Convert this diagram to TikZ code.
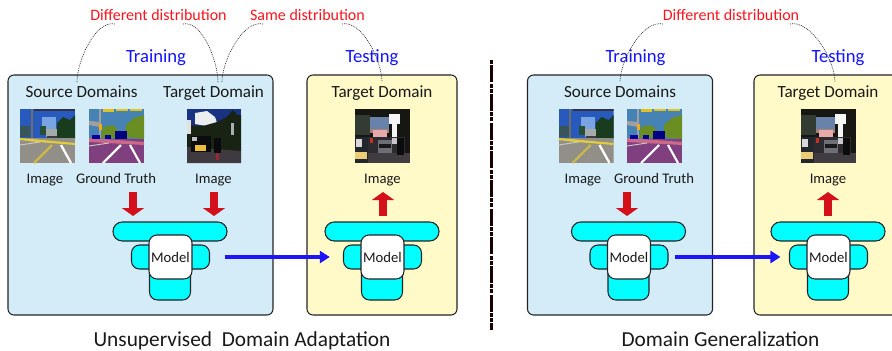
\documentclass[tikz,border=0pt]{standalone}
\usepackage{fontspec}
\setmainfont{Carlito}
\usetikzlibrary{arrows.meta}
\newdimen\pxu \pxu=.75pt
\definecolor{panelblue}{RGB}{211,236,248}
\definecolor{panelyellow}{RGB}{255,250,199}
\definecolor{edge}{RGB}{35,35,40}
\definecolor{redarrow}{RGB}{212,16,26}
\definecolor{bluearrow}{RGB}{30,20,250}
\definecolor{txt}{RGB}{25,25,25}
\definecolor{layercyan}{RGB}{0,255,255}
\definecolor{puredist}{RGB}{255,20,30}
\definecolor{phaseblue}{RGB}{20,20,255}
\tikzset{
  x=.75pt,y=-.75pt,
  panel/.style={draw=edge,line width=.8pt,rounded corners=4.5pt},
  lbl/.style={anchor=base,inner sep=0pt,text=txt,font=\fontsize{12.8}{14}\selectfont},
  sub/.style={anchor=base,inner sep=0pt,text=txt,font=\fontsize{11}{13}\selectfont},
  phase/.style={anchor=base,inner sep=0pt,text=phaseblue,font=\fontsize{14}{16}\selectfont},
  dist/.style={anchor=base,inner sep=0pt,text=puredist,font=\fontsize{12}{14}\selectfont},
  ttl/.style={anchor=base,inner sep=0pt,text=txt,font=\fontsize{16}{18}\selectfont},
  layerb/.style={draw=edge,line width=.8pt,fill=layercyan,inner sep=0pt},
  modelb/.style={draw=edge,line width=.8pt,fill=white,rounded corners=6pt,inner sep=0pt,
     minimum width=43\pxu,minimum height=44\pxu,text=txt,font=\fontsize{11}{13}\selectfont},
  feed/.style={draw=redarrow,line width=6pt,-{Triangle[width=16.5pt,length=6pt,sep=0pt]}},
  transfer/.style={draw=bluearrow,line width=3pt,-{Triangle[width=9pt,length=7.5pt]}},
  curve/.style={draw=black!80,line width=.5pt,dash pattern=on .7pt off .7pt},
  divider/.style={draw=black!90!red,line width=2.4pt,dash pattern=on 3pt off 1pt on 12.7pt off 1pt on 3pt off .8pt},
}
\newcommand{\pf}[2]{\definecolor{tmpc}{RGB}{#1}\fill[tmpc] #2;}
\newcommand{\pl}[3]{\definecolor{tmpc}{RGB}{#1}\draw[tmpc,line width=#2] #3;}
% scenes, 55 x 54 local units
\newcommand{\sceneroad}[2]{\begin{scope}[shift={(#1,#2)}]
 \clip (0,0) rectangle (55,54);
 \pf{40,90,190}{(0,0) rectangle (55,30)}
 \pf{120,165,225}{(22,8) rectangle (36,20)}
 \pf{25,60,30}{(37,30) -- (37,14) -- (43,8) -- (50,11) -- (55,6) -- (55,30) -- cycle}
 \pf{55,85,90}{(0,17) rectangle (10,28)}
 \pf{40,80,50}{(20,17) rectangle (26,26)}
 \pf{50,50,70}{(14,0) rectangle (55,2)}
 \pf{110,110,105}{(10.5,0) rectangle (12.5,29)}
 \pf{165,170,170}{(26,20) rectangle (37,28)}
 \pf{60,60,70}{(27,27) rectangle (37,30)}
 \pf{145,143,135}{(0,29) rectangle (55,54)}
 \pf{225,205,60}{(0,29) -- (12,30) -- (55,34) -- (55,36) -- (12,32.5) -- (0,31) -- cycle}
 \pl{205,185,70}{1.6pt}{(14,54) -- (32,36)}
 \pl{255,255,255}{1.7pt}{(41,36) -- (51,54)}
 \pl{200,200,200}{.7pt}{(0,36) -- (20,33)}
 \end{scope}}
\newcommand{\sceneseg}[2]{\begin{scope}[shift={(#1,#2)}]
 \clip (0,0) rectangle (55,54);
 \pf{70,130,180}{(0,0) rectangle (55,30)}
 \pf{225,195,30}{(14,0) rectangle (25,2.5)}
 \pf{225,195,30}{(27,0) rectangle (39,2)}
 \pf{225,195,30}{(41,0) rectangle (53,1.5)}
 \pf{107,142,35}{(36,28) -- (37,16) -- (45,9) -- (55,6) -- (55,30) -- cycle}
 \pf{107,142,35}{(12,29) -- (14,18) -- (24,16) -- (30,22) -- (30,29) -- cycle}
 \pf{160,160,160}{(10,0) rectangle (12,29)}
 \pf{160,160,160}{(0,12) -- (11,13) -- (11,18) -- (0,16) -- cycle}
 \pf{240,170,30}{(10,15) rectangle (12.5,21)}
 \pf{128,64,128}{(0,30) rectangle (55,54)}
 \pf{205,105,135}{(0,29) -- (55,33) -- (55,36) -- (0,33) -- cycle}
 \pf{0,0,130}{(26,22) rectangle (38,30)}
 \pf{0,0,160}{(3,26) rectangle (11,30)}
 \pf{0,0,160}{(16,26) rectangle (22,30)}
 \pl{255,255,255}{1.6pt}{(14,54) -- (32,36)}
 \pl{255,255,255}{1.6pt}{(41,36) -- (51,54)}
 \pl{200,200,200}{.7pt}{(0,37) -- (20,34)}
 \end{scope}}
\newcommand{\scenebike}[2]{\begin{scope}[shift={(#1,#2)}]
 \clip (0,0) rectangle (54,54);
 \pf{25,50,130}{(0,0) rectangle (54,30)}
 \pf{235,238,238}{(8,4) -- (20,2) -- (28,8) -- (30,14) -- (20,17) -- (8,15) -- cycle}
 \pf{25,35,20}{(0,16) -- (16,17) -- (30,13) -- (40,8) -- (46,1) -- (50,6) -- (54,6) -- (54,42) -- (0,42) -- cycle}
 \pf{225,225,225}{(0,11) rectangle (4,25)}
 \pf{170,175,180}{(44,14) rectangle (47,26)}
 \pf{62,58,64}{(0,38) -- (54,42) -- (54,54) -- (0,54) -- cycle}
 \pf{12,12,15}{(4,27) rectangle (24,43)}
 \pf{190,190,195}{(5,28) rectangle (10,32)}
 \pf{235,190,60}{(8,36) rectangle (19,42)}
 \pf{10,10,12}{(27,29) rectangle (34,44)}
 \pf{150,40,50}{(28.5,44) rectangle (32,51)}
 \end{scope}}
\newcommand{\scenetraffic}[2]{\begin{scope}[shift={(#1,#2)}]
 \clip (0,0) rectangle (55,54);
 \pf{22,22,18}{(0,0) rectangle (55,54)}
 \pf{105,130,170}{(15,8) rectangle (34,20)}
 \pf{50,60,50}{(0,6) rectangle (15,26)}
 \pf{160,130,120}{(15,20) rectangle (34,24)}
 \pf{230,170,170}{(18,21) rectangle (32,28)}
 \pf{245,245,245}{(34,5) rectangle (45,14.5)}
 \pf{245,245,245}{(37,14) rectangle (42,29)}
 \pf{45,42,48}{(13,28) rectangle (50,46)}
 \pf{65,60,66}{(13,44) rectangle (55,54)}
 \pf{190,50,40}{(15,29) rectangle (18,34)}
 \pf{200,200,205}{(37,29) rectangle (42,35)}
 \pf{110,110,118}{(23,31) rectangle (37,44)}
 \pf{25,25,28}{(24,35) rectangle (36,39)}
 \pf{12,12,15}{(42,29) rectangle (49,46)}
 \pf{35,38,44}{(0,28) rectangle (13,54)}
 \pf{215,215,220}{(1,30) rectangle (7,38)}
 \pf{235,205,120}{(0,43) rectangle (12,50)}
 \end{scope}}
\newcommand{\modelstack}[2]{%
 \node[layerb,rounded corners=7pt,minimum width=114\pxu,minimum height=19\pxu] (#1top) at (#2+170,231.5) {};
 \node[layerb,rounded corners=6pt,minimum width=78\pxu,minimum height=24\pxu] (#1mid) at (#2+170.5,257) {};
 \node[layerb,rounded corners=6pt,minimum width=41\pxu,minimum height=36\pxu] (#1bot) at (#2+170,282) {};
 \node[modelb] (#1) at (#2+170.5,257) {Model};
}
\begin{document}
\begin{tikzpicture}
\useasboundingbox (0,0) rectangle (892,350);
% panels
\node[panel,fill=panelblue,minimum width=265\pxu,minimum height=240\pxu,inner sep=0pt] (pa) at (140.5,195) {};
\node[panel,fill=panelyellow,minimum width=150\pxu,minimum height=240\pxu,inner sep=0pt] (pb) at (382,195) {};
\node[panel,fill=panelblue,minimum width=185\pxu,minimum height=240\pxu,inner sep=0pt] (pc) at (620,195) {};
\node[panel,fill=panelyellow,minimum width=160\pxu,minimum height=240\pxu,inner sep=0pt] (pd) at (834,195) {};
% divider
\coordinate (da) at (491.5,60);
\coordinate (db) at (491.5,330);
\draw[divider] (da) -- (db);
% headers
\node[phase] (tra) at (156,62) {Training};
\node[phase] (tea) at (372,62) {Testing};
\node[phase] (trb) at (635.5,62) {Training};
\node[phase] (teb) at (838,62) {Testing};
\node[dist] (da1) at (158.5,20) {Different distribution};
\node[dist] (sa1) at (307.5,20) {Same distribution};
\node[dist] (db1) at (731,20) {Different distribution};
% panel labels
\node[lbl] (s1) at (81.5,97) {Source Domains};
\node[lbl] (t1) at (213.5,97) {Target Domain};
\node[lbl] (t2) at (382,97) {Target Domain};
\node[lbl] (s2) at (620,97) {Source Domains};
\node[lbl] (t3) at (828,97) {Target Domain};
% images
\sceneroad{20}{109}
\sceneseg{89}{109}
\scenebike{187}{109}
\scenetraffic{355}{109}
\sceneroad{558.5}{109}
\sceneseg{627}{109}
\scenetraffic{801}{109}
% captions
\node[sub] (i1) at (45,183) {Image};
\node[sub] (g1) at (116,183) {Ground Truth};
\node[sub] (i2) at (213.5,183) {Image};
\node[sub] (i3) at (382.5,183) {Image};
\node[sub] (i4) at (583,183) {Image};
\node[sub] (g2) at (654,183) {Ground Truth};
\node[sub] (i5) at (828,183) {Image};
% model stacks
\modelstack{ma}{0}
\modelstack{mb}{212}
\modelstack{mc}{458.5}
\modelstack{md}{658}
% red arrows
\coordinate (ra1) at (133,192); \coordinate (ra2) at (133,216);
\coordinate (rb1) at (214,192); \coordinate (rb2) at (214,216);
\coordinate (rc1) at (383,216); \coordinate (rc2) at (383,192);
\coordinate (rd1) at (627,192); \coordinate (rd2) at (627,216);
\coordinate (re1) at (828,216); \coordinate (re2) at (828,192);
\draw[feed] (ra1) -- (ra2);
\draw[feed] (rb1) -- (rb2);
\draw[feed] (rc1) -- (rc2);
\draw[feed] (rd1) -- (rd2);
\draw[feed] (re1) -- (re2);
% blue arrows
\draw[transfer,shorten <=24pt,shorten >=23pt] (ma) -- (mb);
\draw[transfer,shorten <=18pt,shorten >=19.5pt] (mc) -- (md);
% dotted curves
\coordinate (c1) at (115,24); \coordinate (c2) at (77,82);
\coordinate (c3) at (183,24); \coordinate (c4) at (218,82);
\coordinate (c5) at (263,24); \coordinate (c6) at (222,82);
\coordinate (c7) at (342,24); \coordinate (c8) at (382,82);
\coordinate (c9) at (663,24); \coordinate (c10) at (620,82);
\coordinate (c11) at (790,24); \coordinate (c12) at (835,82);
\draw[curve] (c1) to[out=168,in=90,looseness=.75] (c2);
\draw[curve] (c3) to[out=12,in=90,looseness=.75] (c4);
\draw[curve] (c5) to[out=168,in=90,looseness=.75] (c6);
\draw[curve] (c7) to[out=12,in=90,looseness=.75] (c8);
\draw[curve] (c9) to[out=168,in=90,looseness=.75] (c10);
\draw[curve] (c11) to[out=12,in=90,looseness=.75] (c12);
% titles
\node[ttl] (ta) at (242,346) {Unsupervised\ \ Domain Adaptation};
\node[ttl] (tb) at (720.5,346) {Domain Generalization};
\end{tikzpicture}
\end{document}
